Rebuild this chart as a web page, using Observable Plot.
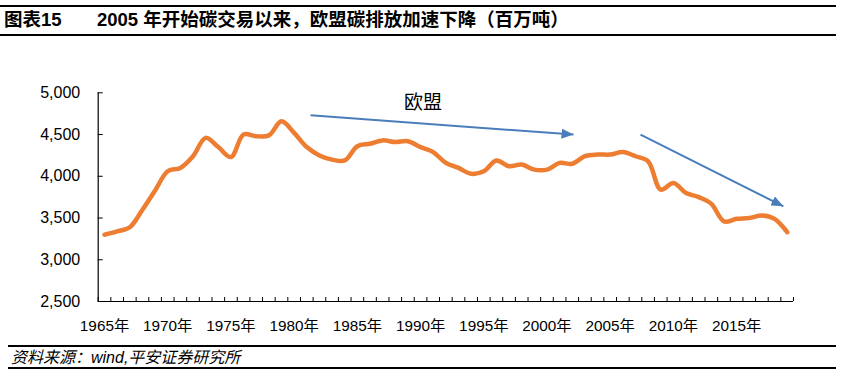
<!DOCTYPE html>
<html><head><meta charset="utf-8">
<script src="https://cdn.jsdelivr.net/npm/d3@7"></script>
<script src="https://cdn.jsdelivr.net/npm/@observablehq/plot@0.6"></script>
<style>
body{margin:0;background:#fff;width:844px;height:382px;position:relative;overflow:hidden;font-family:"Liberation Sans",Arial,"Noto Sans CJK SC",sans-serif;color:#000;}
.hr{position:absolute;height:2px;background:#000;}
#title{position:absolute;left:4px;top:10px;font-weight:bold;font-size:18.5px;line-height:20px;white-space:nowrap;}
#chart{position:absolute;left:0;top:0;}
#source{position:absolute;left:11px;top:349px;font-style:italic;font-size:16px;line-height:18px;white-space:nowrap;}
</style></head>
<body>
<div class="hr" style="left:0;top:5px;width:836px"></div>
<div id="title"><span>图表15</span><span style="position:absolute;left:93px">2005 年开始碳交易以来，欧盟碳排放加速下降（百万吨）</span></div>
<div class="hr" style="left:0;top:34px;width:836px"></div>
<div id="chart"></div>
<div class="hr" style="left:8px;top:345px;width:828px"></div>
<div id="source">资料来源：wind,平安证券研究所</div>
<div class="hr" style="left:8px;top:367px;width:828px"></div>
<script>
const years = [1965,1966,1967,1968,1969,1970,1971,1972,1973,1974,
  1975,1976,1977,1978,1979,1980,1981,1982,1983,1984,
  1985,1986,1987,1988,1989,1990,1991,1992,1993,1994,
  1995,1996,1997,1998,1999,2000,2001,2002,2003,2004,
  2005,2006,2007,2008,2009,2010,2011,2012,2013,2014,
  2015,2016,2017,2018,2019];
const emissions = [3300,3340,3390,3600,3830,4060,4100,4240,4460,4350,
  4230,4500,4480,4490,4660,4520,4350,4250,4200,4190,
  4360,4390,4430,4410,4420,4350,4290,4160,4100,4030,
  4060,4190,4120,4140,4080,4080,4160,4150,4240,4260,
  4260,4290,4240,4180,3840,3920,3800,3750,3670,3460,
  3490,3500,3530,3490,3330];
const yTicks = [2500,3000,3500,4000,4500,5000];
const xLabelYears = [1965,1970,1975,1980,1985,1990,1995,2000,2005,2010,2015];
const arrowX1 = [1981.3, 2007.4];
const arrowY1 = [4730, 4500];
const arrowX2 = [2002.1, 2018.7];
const arrowY2 = [4500, 3640];
const labelText = ["欧盟"];
const labelX = [1990.2];
const labelY = [4876];

const data = years.map((year, i) => ({year, value: emissions[i]}));
const boundaries = years.map(y => y - 0.5).concat([years[years.length - 1] + 0.5]);
const arrows = arrowX1.map((x, i) => ({x1: x, y1: arrowY1[i], x2: arrowX2[i], y2: arrowY2[i]}));
const labels = labelText.map((t, i) => ({t, x: labelX[i], y: labelY[i]}));
const font = '"Liberation Sans", Arial, "Noto Sans CJK SC", sans-serif';

const chart = Plot.plot({
  width: 844, height: 340,
  marginTop: 92.3, marginBottom: 39, marginLeft: 97.7, marginRight: 51,
  x: {domain: [boundaries[0], boundaries[boundaries.length - 1]], label: null},
  y: {domain: [yTicks[0], yTicks[yTicks.length - 1]], label: null},
  style: {fontFamily: font, color: "#000", background: "transparent", overflow: "visible"},
  marks: [
    Plot.axisY(yTicks, {tickSize: 0, tickPadding: 18, tickFormat: d3.format(","), fontSize: 16, label: null}),
    Plot.axisY(yTicks, {tickSize: -5, tickFormat: () => "", label: null}),
    Plot.axisX(xLabelYears, {tickSize: 0, tickPadding: 18.5, tickFormat: d => d + "年", fontSize: 15.3, label: null}),
    Plot.axisX(boundaries, {tickSize: -4, tickFormat: () => "", label: null}),
    Plot.ruleX([boundaries[0]], {stroke: "#000", strokeWidth: 1.2}),
    Plot.ruleY([yTicks[0]], {stroke: "#000", strokeWidth: 1.2}),
    Plot.line(data, {x: "year", y: "value", stroke: "#ED7D31", strokeWidth: 4.5, curve: "catmull-rom", strokeLinecap: "round", strokeLinejoin: "round"}),
    Plot.link(arrows, {x1: "x1", y1: "y1", x2: "x2", y2: "y2", stroke: "#4a7ebb", strokeWidth: 2}),
    Plot.text(labels, {x: "x", y: "y", text: "t", fontSize: 19, fill: "#000", fontFamily: '"Noto Sans CJK SC", sans-serif'})
  ]
});
document.getElementById("chart").appendChild(chart);
const svg = d3.select(chart);
const defs = svg.insert("defs", ":first-child");
defs.append("marker").attr("id", "ah").attr("viewBox", "0 0 12 10")
  .attr("refX", 12).attr("refY", 5).attr("markerWidth", 12).attr("markerHeight", 10)
  .attr("markerUnits", "userSpaceOnUse").attr("orient", "auto")
  .append("path").attr("d", "M0,0L12,5L0,10Z").attr("fill", "#4a7ebb");
svg.selectAll('g[aria-label="link"] path').attr("marker-end", "url(#ah)");
</script>
</body></html>
